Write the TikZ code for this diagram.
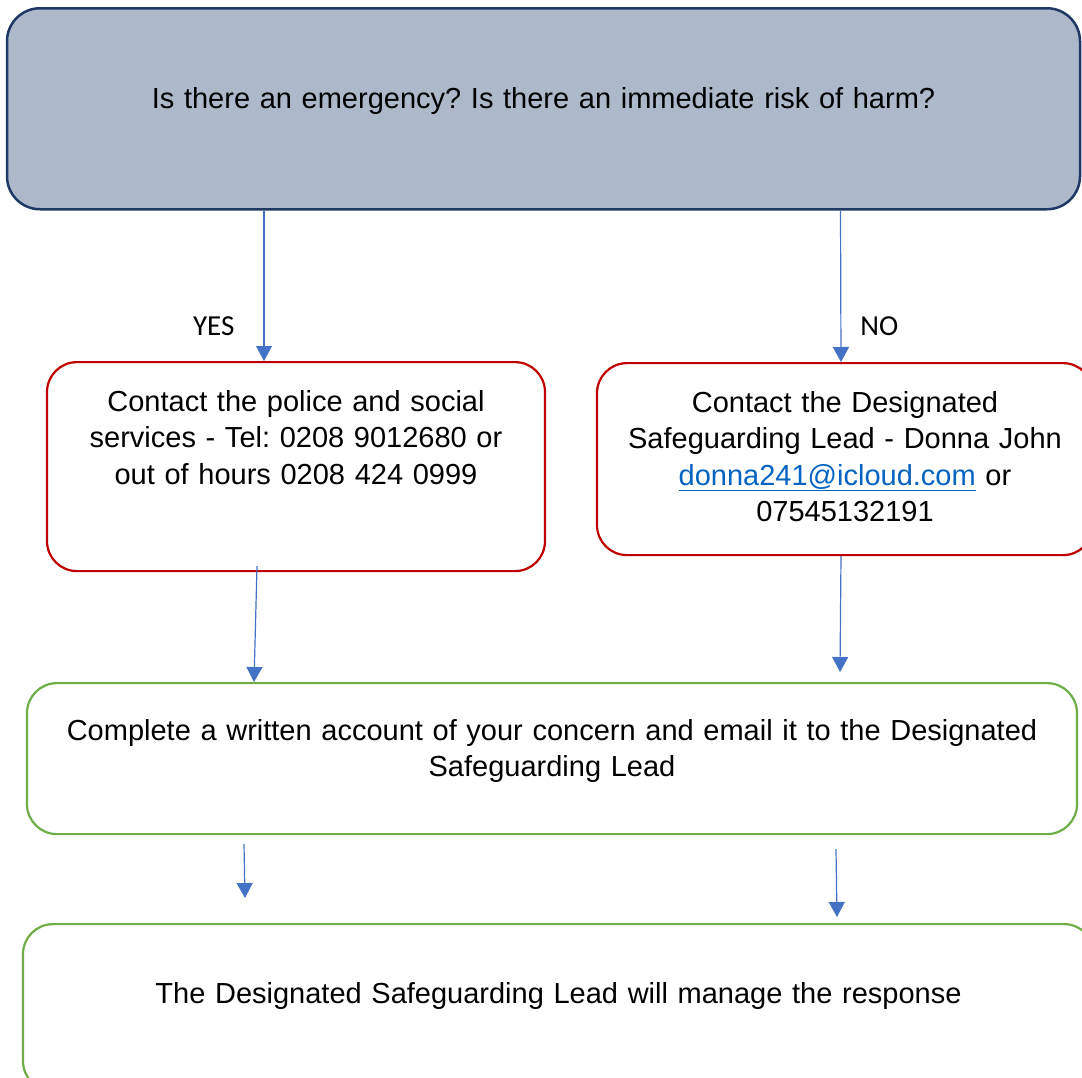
\documentclass[tikz,border=0pt]{standalone}
\usepackage{fontspec}
\setmainfont{Liberation Sans}
\newfontfamily\answerfont{Carlito}
\usetikzlibrary{arrows.meta}
\definecolor{headfill}{HTML}{ADB9CA}
\definecolor{headline}{HTML}{1F3864}
\definecolor{alertred}{HTML}{C00000}
\definecolor{stepgreen}{HTML}{70AD47}
\definecolor{flowblue}{HTML}{4472C4}
\definecolor{linkblue}{HTML}{0563C1}
\frenchspacing

\begin{document}
\begin{tikzpicture}[x=1pt,y=-1pt,
	box/.style={draw, line width=2.2pt, rounded corners=30pt, inner sep=0pt, anchor=north, align=center, font=\fontsize{29}{36.5}\selectfont},
	flow/.style={draw=flowblue, line width=1.2pt, -{Triangle[width=16pt,length=15pt]}},
	answer/.style={font=\answerfont\fontsize{29}{34}\selectfont, inner sep=0pt}]
	\useasboundingbox (0,0) rectangle (1082,1077);
	\node[box, fill=headfill, draw=headline, line width=2.5pt, rounded corners=33pt, text width=1073pt, text height=100pt, text depth=101pt] (risk) at (543.5,7) {Is there an emergency? Is there an immediate risk of harm?};
	\node[box, draw=alertred, text width=498pt, text height=49pt, text depth=160pt] (police) at (296,361) {Contact the police and social\\services - Tel: 0208 9012680 or\\out of hours 0208 424 0999};
	\node[box, draw=alertred, text width=496pt, text height=49pt, text depth=143pt] (dsl) at (845,362) {Contact the Designated\\Safeguarding Lead - Donna John\\\textcolor{linkblue}{\underline{donna241@icloud.com}} or\\07545132191};
	\node[box, draw=stepgreen, text width=1050pt, text height=57pt, text depth=94pt] (account) at (552,682) {Complete a written account of your concern and email it to the Designated\\Safeguarding Lead};
	\node[box, draw=stepgreen, text width=1071pt, text height=79pt, text depth=88pt] (manage) at (558.5,923) {The Designated Safeguarding Lead will manage the response};
	\draw[flow] ([xshift=-279.5pt]risk.south) -- node[answer, pos=0.77, left=29pt] (yes) {YES} ([xshift=-32pt]police.north);
	\draw[flow] ([xshift=297pt]risk.south) -- node[answer, pos=0.765, right=19pt] (no) {NO} ([xshift=-4pt]dsl.north);
	\draw[flow] ([xshift=-39pt,yshift=6pt]police.south) -- ([xshift=-298pt]account.north);
	\draw[flow] ([xshift=-4pt]dsl.south) -- ([xshift=288pt,yshift=10pt]account.north);
	\draw[flow] ([xshift=-308pt,yshift=-9pt]account.south) -- ([xshift=-313.5pt,yshift=25pt]manage.north);
	\draw[flow] ([xshift=284pt,yshift=-14pt]account.south) -- ([xshift=278.5pt,yshift=6pt]manage.north);
\end{tikzpicture}
\end{document}
